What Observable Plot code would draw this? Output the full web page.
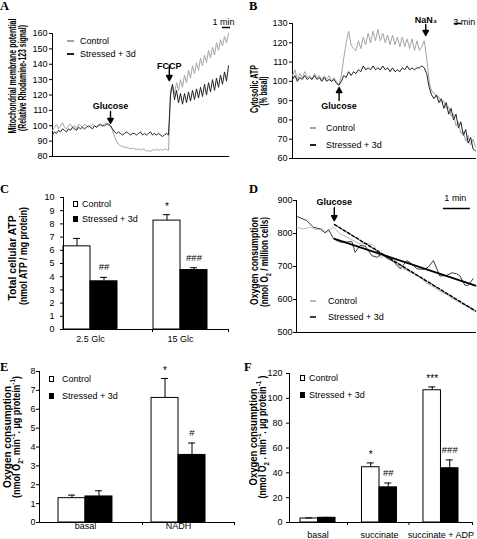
<!DOCTYPE html>
<html><head><meta charset="utf-8">
<script src="https://cdn.jsdelivr.net/npm/d3@7"></script>
<script src="https://cdn.jsdelivr.net/npm/@observablehq/plot@0.6"></script>
<style>
body{margin:0;background:#fff}
#fig{position:relative;width:477px;height:539px;overflow:hidden;font-family:"Liberation Sans",Arial,sans-serif;background:#fff;color:#000}
.panel{position:absolute}
.panel svg{display:block;overflow:visible}
.ylab{position:absolute;left:0;top:0;white-space:nowrap;font-weight:bold;font-size:10px;line-height:10px;transform-origin:0 0}
.ylab sub,.ylab sup{font-size:7px;line-height:0}
.letter{position:absolute;font-family:"Liberation Serif","Times New Roman",serif;font-weight:bold;font-size:12.5px;line-height:12px}
.legtxt{position:absolute;font-size:9px;line-height:10px;white-space:nowrap}
.sw{position:absolute;box-sizing:border-box}
</style></head>
<body><div id="fig"></div>
<script>
// ---------------- DATA ----------------
const seriesLabels = ["Control", "Stressed + 3d"];

// A: mitochondrial membrane potential (sampled every 0.25 min)
const ticksA = [80, 90, 100, 110, 120, 130, 140, 150, 160];
const timeA = d3.range(0, 22.001, 0.25);
const controlA = [97,99,101,98,100,102,99,98,100,101,99,100,98,101,100,99,101,100,99,100,101,100,99,101,100,100,101,102,100,
  100,97,93,90,88,87,86.5,86,86,85.5,85,85.5,
  85,84.5,85,84,85,84.5,83.5,84,83,84.5,84,85,84,84.5,84,85,84.5,84,
  123,126,121,128,123,130,125,133,128,136,131,139,134,141,136,144,139,146,141,149,144,151,146,154,149,156,152,158,154,160];
const stressedA = [94,96,95,97,96,98,97,96,98,97,99,98,97,99,98,99,98,99,100,99,98,100,99,100,101,100,100,101,101,
  100,98,96,95,96,95,94,95,96,95,94,95,
  95,94,95,96,94,95,94,95,96,94,95,94,95,94,93,94,95,94,
  120,127,117,123,115,121,114,121,115,122,116,123,117,124,118,125,119,127,120,128,122,130,123,131,125,133,127,135,129,139];
const eventsA = [{label: "Glucose", t: 7.25, tip: 101.5}, {label: "FCCP", t: 14.6, tip: 129.4}];
const scaleBarA = {start: 21.25, minutes: 1, label: "1 min"};

// B: cytosolic ATP (sampled every 1 min)
const ticksB = [60, 70, 80, 90, 100, 110, 120, 130];
const timeB = d3.range(0, 75.001, 1);
const controlB = [103,106,101,104,102,105,102,103,101,104,102,103,101,103,101,103,100,102,100,98,
  103,112,120,126,119,117,116,121,117,123,119,125,120,126,121,127,121,125,120,124,
  119,124,119,123,118,123,118,122,117,122,116,121,116,118,121,112,100,95,94,92,
  92,89,90,86,87,82,83,77,79,73,74,69,72,67,70,66];
const stressedB = [101,103,100,102,101,103,101,102,101,103,101,102,100,102,100,101,100,101,99,98,
  100,103,102,105,103,105,104,106,105,108,106,107,106,108,106,107,106,108,106,107,
  105,107,105,106,105,107,106,108,106,107,106,107,107,108,107,104,97,93,91,93,
  89,91,86,89,83,86,80,83,76,79,72,75,68,71,65,64];
const eventsB = [{label: "Glucose", t: 19.1, tip: 96.8}, {label: "NaN\u2083", t: 54.6, tip: 123.8}];
const scaleBarB = {start: 66.4, minutes: 3, label: "3 min"};

// C: total cellular ATP
const groupsC = ["2.5 Glc", "15 Glc"];
const ticksC = [0,1,2,3,4,5,6,7,8,9,10];
const controlC = [6.3, 8.25], controlErrC = [0.6, 0.45], controlSigC = ["", "*"];
const stressedC = [3.65, 4.5], stressedErrC = [0.3, 0.18], stressedSigC = ["##", "###"];

// D: oxygen consumption traces (minutes)
const ticksD = [500, 600, 700, 800, 900];
const timeDcontrol = [0.01,0.26,0.50,0.75,0.93,1.12,1.37,1.50,1.62,1.86,2.11,2.36,2.60,2.85,3.10,3.35,3.59,3.84,4.09,4.33,4.58,4.82,5.07,5.31,5.56,5.80,6.05,6.30,6.54];
const controlD = [819,814,819,812,814,804,819,808,799,789,779,769,769,764,728,733,715,698,688,678,668,650,638,625,615,602,590,580,572];
const timeDstressed = [0.01,0.38,0.63,0.88,1.06,1.19,1.37,1.62,1.86,2.05,2.17,2.36,2.54,2.79,2.98,3.16,3.35,3.59,3.84,4.09,4.27,4.46,4.70,4.88,5.07,5.31,5.56,5.75,5.93,6.05,6.23,6.35,6.54];
const stressedD = [852,839,819,814,802,812,784,774,774,776,743,764,762,733,728,738,725,715,693,718,708,693,691,698,718,671,673,681,678,672,644,642,663];
const fitTimeD = [1.41, 6.63];
const fitControlD = [827, 565];
const fitStressedD = [784, 642];
const eventsD = [{label: "Glucose", t: 1.4, tip: 839}];
const scaleBarD = {start: 5.44, minutes: 1, label: "1 min"};

// E: oxygen consumption, NADH
const groupsE = ["basal", "NADH"];
const ticksE = [0,1,2,3,4,5,6,7,8];
const controlE = [1.29, 6.6], controlErrE = [0.16, 1.03], controlSigE = ["", "*"];
const stressedE = [1.38, 3.58], stressedErrE = [0.3, 0.63], stressedSigE = ["", "#"];

// F: oxygen consumption, succinate
const groupsF = ["basal", "succinate", "succinate + ADP"];
const ticksF = [0, 20, 40, 60, 80, 100, 120];
const controlF = [3.2, 44.5, 106.5], controlErrF = [0.5, 3.5, 2.7], controlSigF = ["", "*", "***"];
const stressedF = [3.8, 28.3, 43.7], stressedErrF = [0.3, 3.5, 6.7], stressedSigF = ["", "##", "###"];

// ---------------- RENDERING ----------------
const FONT = '"Liberation Sans", Arial, sans-serif';
const GRAY = "#a4a4a4";
const DARK = "#222";
const baseStyle = {fontFamily: FONT, fontSize: "9px", color: "black", background: "white", overflow: "visible"};
const fig = document.getElementById("fig");

function place(svg, left, top, w, h) {
  const d = document.createElement("div");
  d.className = "panel";
  Object.assign(d.style, {left: left + "px", top: top + "px", width: w + "px", height: h + "px"});
  d.appendChild(svg);
  fig.appendChild(d);
}

const solidArrow = {
  draw(ctx, l) {
    const h = 5, w = 2.7;
    ctx.moveTo(0, 0);
    ctx.lineTo(0, -l + h);
    ctx.moveTo(-w, -l + h);
    ctx.lineTo(0, -l);
    ctx.lineTo(w, -l + h);
    ctx.closePath();
  }
};

function eventMarks(events, styles) {
  return events.flatMap((e, i) => {
    const s = styles[i];
    return [
      Plot.vector([e], {x: "t", y: "tip", length: s.len, rotate: s.rotate, anchor: "end", shape: solidArrow, fill: "black", stroke: "black", strokeWidth: 1.4}),
      Plot.text([e], {x: "t", y: "tip", text: "label", dy: s.dy, lineAnchor: s.lineAnchor, fontWeight: "bold", fontSize: 9, fill: "black"})
    ];
  });
}

function scaleBarMarks(bar, yTop, barDy, textDy, textDx) {
  return [
    Plot.ruleY([yTop], {x1: bar.start, x2: bar.start + bar.minutes, dy: barDy, strokeWidth: 1.5}),
    Plot.text([bar], {x: d => d.start + d.minutes / 2, frameAnchor: "top", dy: textDy, dx: textDx, text: "label", fontSize: 9, fill: "black"})
  ];
}

// ---- Panel A
{
  const rows = timeA.map((t, i) => ({t, control: controlA[i], stressed: stressedA[i]}));
  const p = Plot.plot({
    width: 237, height: 175, marginLeft: 52, marginRight: 9, marginTop: 33, marginBottom: 19,
    style: baseStyle,
    x: {domain: [0, 22], axis: null},
    y: {domain: [80, 160], ticks: ticksA, tickSize: 3, tickPadding: 2, label: null},
    marks: [
      Plot.frame({anchor: "left"}), Plot.frame({anchor: "bottom"}),
      Plot.line(rows, {x: "t", y: "control", stroke: GRAY, strokeWidth: 1}),
      Plot.line(rows, {x: "t", y: "stressed", stroke: DARK, strokeWidth: 1}),
      ...eventMarks(eventsA, [{len: 12, rotate: 180, dy: -14, lineAnchor: "bottom"}, {len: 15, rotate: 180, dy: -12, lineAnchor: "bottom"}]),
      ...scaleBarMarks(scaleBarA, 160, -6, -15, -3)
    ]
  });
  place(p, 0, 0, 237, 175);
}

// ---- Panel B
{
  const rows = timeB.map((t, i) => ({t, control: controlB[i], stressed: stressedB[i]}));
  const p = Plot.plot({
    width: 240, height: 175, marginLeft: 55, marginRight: 2, marginTop: 23, marginBottom: 17,
    style: baseStyle,
    x: {domain: [0, 75], axis: null},
    y: {domain: [60, 130], ticks: ticksB, tickSize: 3, tickPadding: 2, label: null},
    marks: [
      Plot.frame({anchor: "left"}), Plot.frame({anchor: "bottom"}),
      Plot.line(rows, {x: "t", y: "control", stroke: GRAY, strokeWidth: 1}),
      Plot.line(rows, {x: "t", y: "stressed", stroke: DARK, strokeWidth: 1}),
      ...eventMarks(eventsB, [{len: 13, rotate: 0, dy: 15, lineAnchor: "top"}, {len: 11, rotate: 180, dy: -12, lineAnchor: "bottom"}]),
      ...scaleBarMarks(scaleBarB, 130, 0, -5, 6)
    ]
  });
  place(p, 237, 0, 240, 175);
}

// ---- Bar panels
function barPanel(cfg) {
  const {groups, control, controlErr, controlSig, stressed, stressedErr, stressedSig,
         yDomain, yTicks, width, height, margin, range, paddingInner, boundaryDx, labelPad, yPad} = cfg;
  const n = groups.length;
  const step = (range[1] - range[0]) / (n - paddingInner);
  const bw = step * (1 - paddingInner);
  const mk = (vals, errs, sig) => groups.map((g, i) => ({group: g, value: vals[i], top: vals[i] + errs[i], sig: sig[i]}));
  const C = mk(control, controlErr, controlSig), S = mk(stressed, stressedErr, stressedSig);
  const cap = 3.5;
  const endDx = (width - margin[1]) - (range[1] - bw / 2);
  const star = d => d.sig.startsWith("*");
  const hash = d => d.sig.startsWith("#");
  return Plot.plot({
    width, height, marginTop: margin[0], marginRight: margin[1], marginBottom: margin[2], marginLeft: margin[3],
    style: baseStyle,
    x: {domain: groups, range, paddingInner, paddingOuter: 0, align: 0.5, round: false, label: null},
    y: {domain: yDomain, ticks: yTicks, tickSize: 3, tickPadding: yPad, label: null},
    marks: [
      Plot.barY(C, {x: "group", y: "value", fill: "white", stroke: "black", insetRight: bw / 2}),
      Plot.barY(S, {x: "group", y: "value", fill: "black", stroke: "black", insetLeft: bw / 2}),
      Plot.ruleX(C, {x: "group", y1: "value", y2: "top", dx: -bw / 4}),
      Plot.ruleX(S, {x: "group", y1: "value", y2: "top", dx: bw / 4}),
      Plot.tickY(C, {x: "group", y: "top", insetLeft: bw / 4 - cap, insetRight: 3 * bw / 4 - cap}),
      Plot.tickY(S, {x: "group", y: "top", insetLeft: 3 * bw / 4 - cap, insetRight: bw / 4 - cap}),
      Plot.text(C.filter(star), {x: "group", y: "top", text: "sig", dx: -bw / 4, dy: -8, fontSize: 10, fill: "black"}),
      Plot.text(S.filter(star), {x: "group", y: "top", text: "sig", dx: bw / 4, dy: -8, fontSize: 10, fill: "black"}),
      Plot.text(C.filter(hash), {x: "group", y: "top", text: "sig", dx: -bw / 4, dy: -10, fontSize: 9.5, fill: "black"}),
      Plot.text(S.filter(hash), {x: "group", y: "top", text: "sig", dx: bw / 4, dy: -10, fontSize: 9.5, fill: "black"}),
      Plot.frame({anchor: "left"}), Plot.frame({anchor: "bottom"}),
      Plot.axisX(groups.slice(1), {tickSize: 3, tickFormat: () => "", dx: boundaryDx}),
      Plot.axisX([groups[n - 1]], {tickSize: 3, tickFormat: () => "", dx: endDx}),
      Plot.axisX({tickSize: 0, tickPadding: labelPad, fontSize: 9, label: null})
    ]
  });
}

place(barPanel({groups: groupsC, control: controlC, controlErr: controlErrC, controlSig: controlSigC,
  stressed: stressedC, stressedErr: stressedErrC, stressedSig: stressedSigC,
  yDomain: [0, 10], yTicks: ticksC, width: 237, height: 180, margin: [22, 9, 26, 63],
  range: [63, 207], paddingInner: 0.4, boundaryDx: -28, labelPad: 6, yPad: 6}), 0, 175, 237, 180);

place(barPanel({groups: groupsE, control: controlE, controlErr: controlErrE, controlSig: controlSigE,
  stressed: stressedE, stressedErr: stressedErrE, stressedSig: stressedSigE,
  yDomain: [0, 8], yTicks: ticksE, width: 237, height: 184, margin: [16, 3, 17, 39],
  range: [58, 205], paddingInner: 0.42, boundaryDx: -36, labelPad: 0, yPad: 1}), 0, 355, 237, 184);

place(barPanel({groups: groupsF, control: controlF, controlErr: controlErrF, controlSig: controlSigF,
  stressed: stressedF, stressedErr: stressedErrF, stressedSig: stressedSigF,
  yDomain: [0, 120], yTicks: ticksF, width: 240, height: 184, margin: [18, 5, 17, 52],
  range: [63, 221], paddingInner: 0.43, boundaryDx: -32, labelPad: 9, yPad: 4}), 237, 355, 240, 184);

// ---- Panel D
{
  const ctrl = timeDcontrol.map((t, i) => ({t, v: controlD[i]}));
  const str = timeDstressed.map((t, i) => ({t, v: stressedD[i]}));
  const fitC = fitTimeD.map((t, i) => ({t, v: fitControlD[i]}));
  const fitS = fitTimeD.map((t, i) => ({t, v: fitStressedD[i]}));
  const p = Plot.plot({
    width: 240, height: 180, marginLeft: 59, marginRight: 2, marginTop: 25, marginBottom: 23,
    style: baseStyle,
    x: {domain: [0, 6.63], axis: null},
    y: {domain: [500, 900], ticks: ticksD, tickSize: 3, tickPadding: 1, label: null},
    marks: [
      Plot.frame({anchor: "left"}), Plot.frame({anchor: "bottom"}),
      Plot.line(ctrl, {x: "t", y: "v", stroke: "#b8b8b8", strokeWidth: 1, curve: "monotone-x"}),
      Plot.line(str, {x: "t", y: "v", stroke: "#3c3c3c", strokeWidth: 1}),
      Plot.line(fitC, {x: "t", y: "v", stroke: "black", strokeWidth: 1.5, strokeDasharray: "3,2"}),
      Plot.line(fitS, {x: "t", y: "v", stroke: "black", strokeWidth: 1.8}),
      ...eventMarks(eventsD, [{len: 13, rotate: 180, dy: -16, lineAnchor: "bottom"}]),
      ...scaleBarMarks(scaleBarD, 900, 8, -6, -1.5)
    ]
  });
  place(p, 237, 175, 240, 180);
}

// ---- Y-axis titles (rotated, compressed to the reference length)
const yLabels = [
  {html: "Mitochondrial membrane potential", x: 13, y: 76, len: 115},
  {html: "(Relative Rhodamine-123 signal)", x: 23, y: 78, len: 106},
  {html: "Cytosolic ATP", x: 255, y: 89, len: 48},
  {html: "(% basal)", x: 264, y: 91, len: 29},
  {html: "Total cellular ATP", x: 13, y: 258, len: 85},
  {html: "(nmol ATP / mg protein)", x: 24, y: 256, len: 98},
  {html: "Oxygen consumption", x: 255, y: 261, len: 88},
  {html: "(nmol O<sub>2</sub> / million cells)", x: 265, y: 262, len: 90},
  {html: "Oxygen consumption", x: 8, y: 437, len: 102},
  {html: "(nmol O<sub>2</sub>. min<sup>-1</sup>. µg protein<sup>-1</sup>)", x: 16.5, y: 437, len: 122},
  {html: "Oxygen consumption", x: 254, y: 437, len: 97},
  {html: "(nmol O<sub>2</sub> . min<sup>-1</sup>. µg protein<sup>-1</sup> )", x: 262.5, y: 437, len: 123}
];
for (const l of yLabels) {
  const d = document.createElement("div");
  d.className = "ylab";
  d.innerHTML = l.html;
  fig.appendChild(d);
  const w = d.getBoundingClientRect().width;
  const s = l.len / w;
  d.style.transform = `translate(${l.x}px,${l.y}px) rotate(-90deg) scale(${s},1) translate(-50%,-50%)`;
}

// ---- Legends
const legendLayout = [
  {kind: "line", sx: 67, sw: 7, ys: [41, 54], tx: 80, colors: [GRAY, DARK]},
  {kind: "line", sx: 310, sw: 6, ys: [128, 145], tx: 326, colors: [GRAY, DARK]},
  {kind: "box", sx: 73, ys: [204, 219], tx: 82},
  {kind: "line", sx: 310, sw: 6, ys: [301, 317], tx: 328, colors: ["#b8b8b8", "#3c3c3c"]},
  {kind: "box", sx: 49, ys: [378.5, 395.5], tx: 62},
  {kind: "box", sx: 300, ys: [378, 395], tx: 309}
];
for (const L of legendLayout) {
  seriesLabels.forEach((label, i) => {
    const sw = document.createElement("div");
    sw.className = "sw";
    if (L.kind === "line") {
      Object.assign(sw.style, {left: L.sx + "px", top: (L.ys[i] - 0.75) + "px", width: L.sw + "px", height: "1.5px", background: L.colors[i]});
    } else {
      Object.assign(sw.style, {left: L.sx + "px", top: (L.ys[i] - 3) + "px", width: "5px", height: "6px", border: "1px solid black", background: i === 0 ? "white" : "black"});
    }
    fig.appendChild(sw);
    const t = document.createElement("div");
    t.className = "legtxt";
    t.textContent = label;
    Object.assign(t.style, {left: L.tx + "px", top: (L.ys[i] - 5) + "px"});
    fig.appendChild(t);
  });
}

// ---- Panel letters
const panelLetters = ["A", "B", "C", "D", "E", "F"];
const letterPos = [[0, 0], [249, 0], [0, 183], [249, 183], [0, 361], [244, 361]];
panelLetters.forEach((k, i) => {
  const d = document.createElement("div");
  d.className = "letter";
  d.textContent = k;
  d.style.left = letterPos[i][0] + "px";
  d.style.top = letterPos[i][1] + "px";
  fig.appendChild(d);
});
</script>
</body></html>
